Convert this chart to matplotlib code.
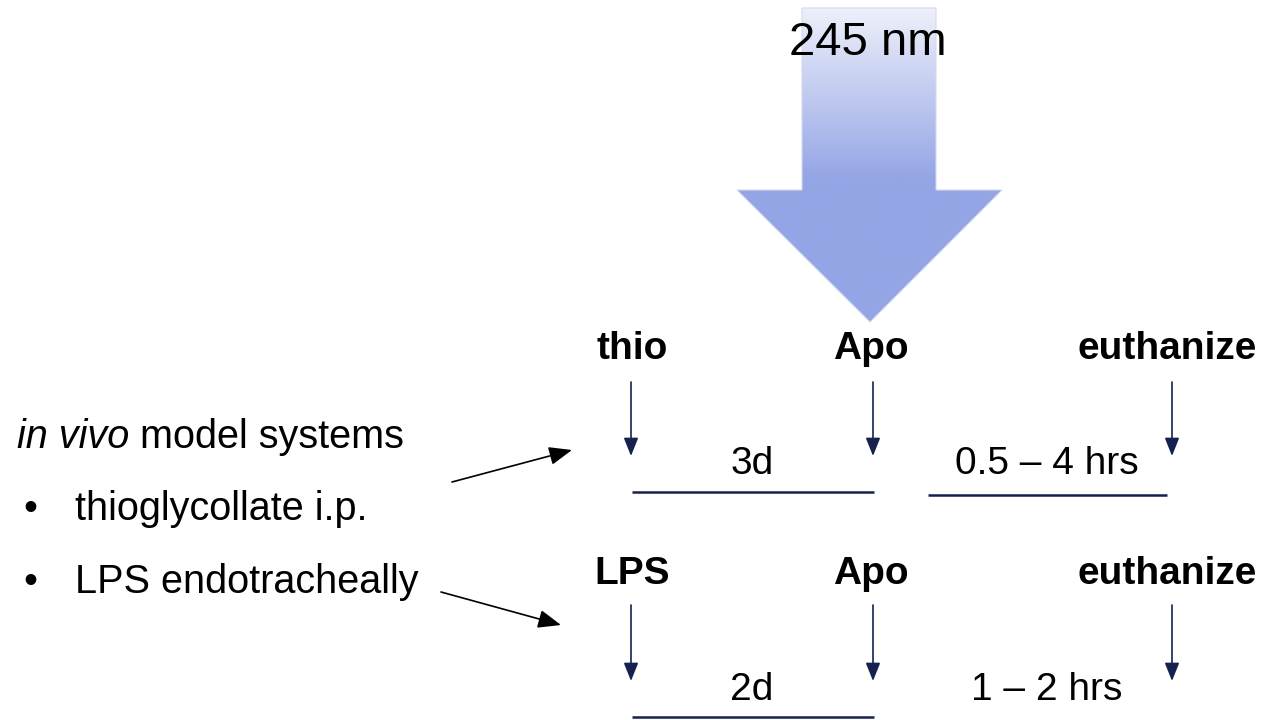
import numpy as np
import matplotlib
matplotlib.use('Agg')
import matplotlib.pyplot as plt
from matplotlib.patches import Polygon
from matplotlib.colors import LinearSegmentedColormap

plt.rcParams['font.family'] = ['Liberation Sans', 'DejaVu Sans']

# timeline content
row1_labels = ['thio', 'Apo', 'euthanize']
row2_labels = ['LPS', 'Apo', 'euthanize']
row1_intervals = ['3d', '0.5 \u2013 4 hrs']
row2_intervals = ['2d', '1 \u2013 2 hrs']
bullets = ['thioglycollate i.p.', 'LPS endotracheally']
beam_label = '245 nm'

navy = '#17214f'

fig = plt.figure(figsize=(12.63, 7.2), dpi=100)
ax = fig.add_axes([0, 0, 1, 1])
ax.set_xlim(0, 1263)
ax.set_ylim(720, 0)
ax.axis('off')

# big gradient arrow
shaft_l, shaft_r, top, neck = 802, 936, 8, 190
head_l, head_r, tip_x, tip_y = 737, 1002, 870, 322
pts = [(shaft_l, top), (shaft_r, top), (shaft_r, neck), (head_r, neck),
       (tip_x, tip_y), (head_l, neck), (shaft_l, neck)]
cmap = LinearSegmentedColormap.from_list('beam', ['#eef0fa', '#94a5e6'])
grad = np.linspace(0, 1, 300).reshape(-1, 1)
grad = np.clip(grad * (tip_y - top) / (180 - top), 0, 1)
im = ax.imshow(grad, cmap=cmap, extent=[head_l, head_r, tip_y, top],
               aspect='auto', zorder=1, vmin=0, vmax=1)
poly = Polygon(pts, closed=True, facecolor='none', edgecolor='#d4d8ee', lw=0.8, zorder=2)
ax.add_patch(poly)
im.set_clip_path(poly)
ax.text(868, 55, beam_label, fontsize=34, ha='center', va='baseline', zorder=3)

# timelines
cols = [631, 873, 1172]
label_x = [632, 871, 1167]
interval_x = [752, 1047]


def draw_row(labels, intervals, label_base, arr_top, arr_tip, text_base, lines):
    for x, lab in zip(label_x, labels):
        ax.text(x, label_base, lab, fontsize=28, fontweight='bold', ha='center', va='baseline')
    for x in cols:
        ax.annotate('', xy=(x, arr_tip), xytext=(x, arr_top),
                    arrowprops=dict(arrowstyle='-|>,head_length=0.55,head_width=0.22',
                                    color=navy, lw=1.2, mutation_scale=20,
                                    shrinkA=0, shrinkB=0))
    for x, s in zip(interval_x, intervals):
        ax.text(x, text_base, s, fontsize=28, ha='center', va='baseline')
    for x0, x1, y in lines:
        ax.plot([x0, x1], [y, y], color=navy, lw=1.8, solid_capstyle='butt')


draw_row(row1_labels, row1_intervals, 359, 382, 456, 474,
         [(632, 874, 492), (928, 1167, 495)])
draw_row(row2_labels, row2_intervals, 584, 605, 681, 700,
         [(632, 874, 717)])

# left text
renderer = fig.canvas.get_renderer()
t = ax.text(17, 448, 'in vivo', fontsize=28.5, style='italic', ha='left', va='baseline')
bb = t.get_window_extent(renderer)
x_end = ax.transData.inverted().transform((bb.x1, bb.y0))[0]
ax.text(x_end, 448, ' model systems', fontsize=28.5, ha='left', va='baseline')

for y, s in zip([520, 593], bullets):
    ax.text(30, y, '\u2022', fontsize=28.5, ha='center', va='baseline')
    ax.text(75, y, s, fontsize=28.5, ha='left', va='baseline')

# pointers from text to timelines
for (x0, y0), (x1, y1) in [((452, 482), (572, 450)), ((441, 592), (561, 625))]:
    ax.annotate('', xy=(x1, y1), xytext=(x0, y0),
                arrowprops=dict(arrowstyle='-|>,head_length=0.7,head_width=0.28',
                                color='black', lw=1.2, mutation_scale=20,
                                shrinkA=0, shrinkB=0))

fig.savefig('out.png', dpi=100)
